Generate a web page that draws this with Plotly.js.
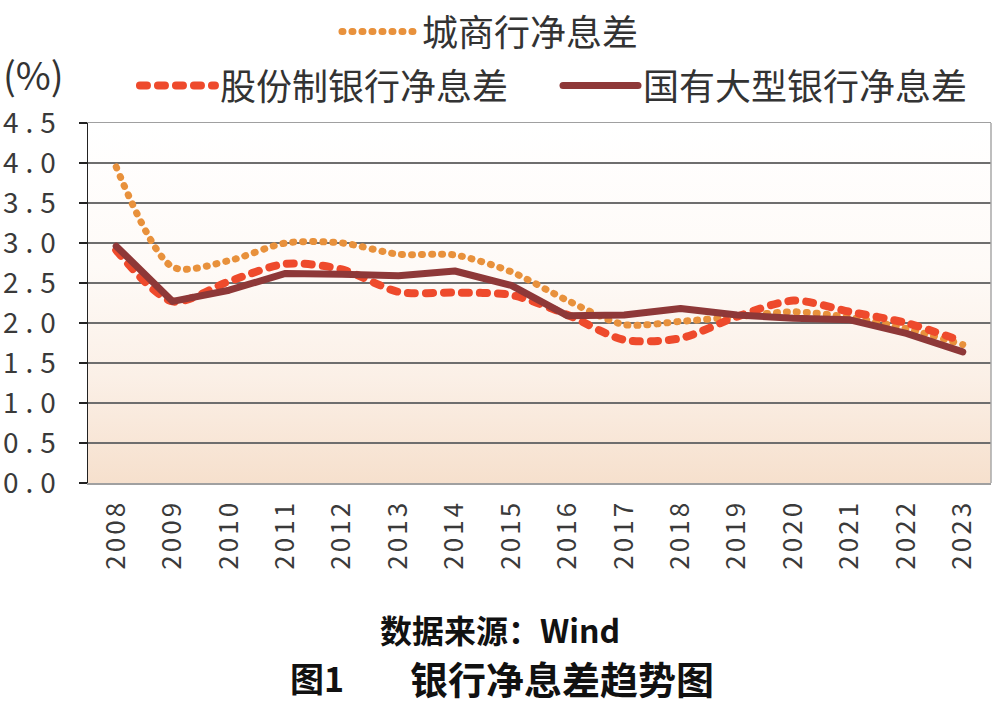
<!DOCTYPE html>
<html>
<head>
<meta charset="utf-8">
<script src="https://cdn.plot.ly/plotly-3.0.1.min.js"></script>
<style>
  html, body { margin: 0; padding: 0; background: #fff; }
  #chart { width: 1000px; height: 705px; }
  .scatterlayer path.js-line, .legendlines path, path.js-line { stroke-linecap: round; stroke-linejoin: round; }
  .xtick text { letter-spacing: 3px; }
  .ytick text { letter-spacing: 7px; }
</style>
</head>
<body>
<div id="chart"></div>
<script>
const years = ["2008","2009","2010","2011","2012","2013","2014","2015","2016","2017","2018","2019","2020","2021","2022","2023"];
const cityBank = [3.95, 2.70, 2.78, 3.00, 3.00, 2.86, 2.85, 2.64, 2.28, 1.98, 2.02, 2.08, 2.14, 2.07, 1.93, 1.73];
const jointStock = [2.91, 2.27, 2.52, 2.74, 2.67, 2.39, 2.38, 2.35, 2.10, 1.79, 1.81, 2.08, 2.28, 2.14, 2.00, 1.77];
const stateOwned = [2.96, 2.27, 2.41, 2.62, 2.61, 2.59, 2.65, 2.47, 2.09, 2.10, 2.18, 2.10, 2.06, 2.04, 1.87, 1.64];
const yTickVals = [0, 0.5, 1.0, 1.5, 2.0, 2.5, 3.0, 3.5, 4.0, 4.5];
const yTickText = ["0.0","0.5","1.0","1.5","2.0","2.5","3.0","3.5","4.0","4.5"];
const seriesNames = ["城商行净息差", "股份制银行净息差", "国有大型银行净息差"];

const cjk = '"Noto Sans CJK SC", "Noto Sans", sans-serif';

const traces = [
  { x: years, y: cityBank, name: seriesNames[0], type: 'scatter', mode: 'lines',
    line: { color: '#e8913c', width: 7, dash: '1px,9px', shape: 'spline', smoothing: 0.8 },
    legend: 'legend' },
  { x: years, y: jointStock, name: seriesNames[1], type: 'scatter', mode: 'lines',
    line: { color: '#ee4a2c', width: 8, dash: '7px,11px', shape: 'spline', smoothing: 0.8 },
    legend: 'legend2' },
  { x: years, y: stateOwned, name: seriesNames[2], type: 'scatter', mode: 'lines',
    line: { color: '#8e3838', width: 7, shape: 'linear' },
    legend: 'legend3' }
];

const gradSvg = "<svg xmlns='http://www.w3.org/2000/svg' width='100' height='100' preserveAspectRatio='none'>" +
  "<defs><linearGradient id='g' x1='0' y1='0' x2='0' y2='1'>" +
  "<stop offset='0' stop-color='#ffffff'/><stop offset='0.4' stop-color='#fefaf7'/>" +
  "<stop offset='0.7' stop-color='#fbf0e7'/><stop offset='1' stop-color='#f6e0cd'/>" +
  "</linearGradient></defs><rect width='100' height='100' fill='url(#g)'/></svg>";

function legendAt(x, y) {
  return {
    orientation: 'v', x: x, y: y, xref: 'paper', yref: 'paper',
    xanchor: 'left', yanchor: 'middle', bgcolor: 'rgba(0,0,0,0)', borderwidth: 0,
    font: { family: cjk, size: 36, color: '#333' }, itemwidth: 75
  };
}

const layout = {
  width: 1000, height: 705,
  margin: { l: 88, r: 9, t: 123, b: 222, autoexpand: false },
  paper_bgcolor: '#ffffff',
  plot_bgcolor: 'rgba(0,0,0,0)',
  showlegend: true,
  images: [{
    source: 'data:image/svg+xml;base64,' + btoa(gradSvg),
    xref: 'paper', yref: 'paper', x: 0, y: 1, sizex: 1, sizey: 1,
    xanchor: 'left', yanchor: 'top', sizing: 'stretch', layer: 'below'
  }],
  xaxis: {
    type: 'category', range: [-0.5, 15.5],
    tickangle: -90, tickfont: { family: cjk, size: 26, color: '#3a3a3a' },
    showline: true, linecolor: '#a0a0a0', linewidth: 1.5, mirror: true,
    ticks: '', showgrid: false, zeroline: false, ticklabelstandoff: 5, automargin: false
  },
  yaxis: {
    range: [0, 4.5], tickvals: yTickVals, ticktext: yTickText,
    tickfont: { family: cjk, size: 28, color: '#3a3a3a' },
    ticks: 'outside', ticklen: 8, tickwidth: 1.5, tickcolor: '#222',
    showline: true, linecolor: '#222', linewidth: 1.5,
    showgrid: true, gridcolor: '#6e6e6e', gridwidth: 1.2, zeroline: false,
    ticklabelstandoff: 10, automargin: false
  },
  shapes: [
    { type: 'line', xref: 'paper', yref: 'paper', x0: 1, x1: 1, y0: 0, y1: 1,
      line: { color: '#a8a8a8', width: 1.5 } }
  ],
  legend: legendAt(0.2757, 1.254),
  legend2: legendAt(0.052, 1.104),
  legend3: legendAt(0.5205, 1.104),
  annotations: [
    { text: '(%)', xref: 'paper', yref: 'paper', x: -0.096, y: 1.137,
      xanchor: 'left', yanchor: 'middle', showarrow: false,
      font: { family: cjk, size: 38, color: '#333' } },
    { text: '数据来源：Wind', xref: 'paper', yref: 'paper', x: 0.456, y: -0.405,
      xanchor: 'center', yanchor: 'middle', showarrow: false,
      font: { family: cjk, size: 32, color: '#111', weight: 'bold' } },
    { text: '图1', xref: 'paper', yref: 'paper', x: 0.254, y: -0.54,
      xanchor: 'center', yanchor: 'middle', showarrow: false,
      font: { family: cjk, size: 34, color: '#111', weight: 'bold' } },
    { text: '银行净息差趋势图', xref: 'paper', yref: 'paper', x: 0.525, y: -0.54,
      xanchor: 'center', yanchor: 'middle', showarrow: false,
      font: { family: cjk, size: 38, color: '#111', weight: 'bold' } }
  ]
};

Plotly.newPlot('chart', traces, layout, { staticPlot: true, displayModeBar: false });
</script>
</body>
</html>
